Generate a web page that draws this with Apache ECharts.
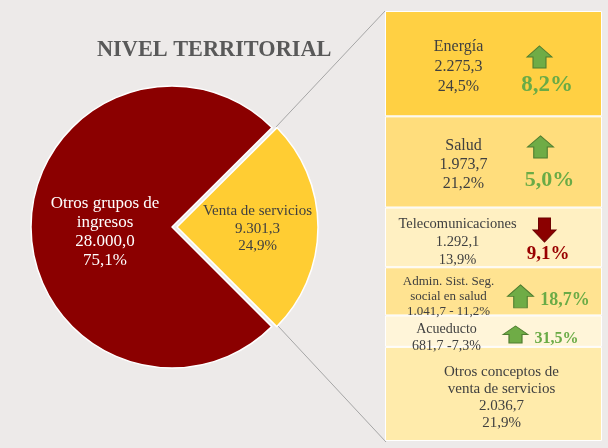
<!DOCTYPE html>
<html>
<head>
<meta charset="utf-8">
<script src="https://cdn.jsdelivr.net/npm/echarts@6/dist/echarts.min.js"></script>
<style>
  html, body { margin: 0; padding: 0; background: #edeae9; }
  #chart { width: 608px; height: 448px; }
</style>
</head>
<body>
<div id="chart"></div>
<script>
// pie: Venta de servicios vs otros grupos
const pieNames = ['Venta de servicios', 'Otros grupos de\ningresos']
const pieValues = [9301.3, 28000.0]
const piePct = [24.9, 75.1]

// desglose de venta de servicios
const itemNames = ['Energía', 'Salud', 'Telecomunicaciones', 'Admin. Sist. Seg.\nsocial en salud', 'Acueducto', 'Otros conceptos de\nventa de servicios']
const itemValues = [2275.3, 1973.7, 1292.1, 1041.7, 681.7, 2036.7]
const itemShare = [24.5, 21.2, 13.9, 11.2, 7.3, 21.9]
const itemGrowth = [8.2, 5.0, -9.1, 18.7, 31.5, null]
const valueSep = ['\n', '\n', '\n', ' - ', ' -', '\n']

const serif = "'Liberation Serif', 'Times New Roman', serif"
const boxColors = ['#ffd043', '#ffdd7c', '#fff0c2', '#ffe391', '#fff5d9', '#ffebab']
const textStyle = [
  { size: 16, lh: 20, off: [-35, 3] },
  { size: 16, lh: 19, off: [-30, 3] },
  { size: 14.5, lh: 18, off: [-36, 5] },
  { size: 13, lh: 15, off: [-45, 5] },
  { size: 14, lh: 17, off: [-47, 6.5] },
  { size: 15, lh: 17, off: [8, 4] },
]
const arrowStyle = [
  { size: [25, 22], off: [46, -6.7] },
  { size: [26, 22], off: [47, -15] },
  { size: [23, 24], off: [51, -7.4] },
  { size: [26, 23], off: [27, 5] },
  { size: [25, 17], off: [22, 3.4] },
]
const pctStyle = [
  { size: 23, off: [53.5, 21] },
  { size: 22, off: [56, 18] },
  { size: 19, off: [54.5, 16.5] },
  { size: 18, off: [71.5, 8.5] },
  { size: 16, off: [63, 8] },
]

const upArrow = 'path://M50,0 L100,50 L76,50 L76,100 L24,100 L24,50 L0,50 Z'
const downArrow = 'path://M24,0 L76,0 L76,50 L100,50 L50,100 L0,50 L24,50 Z'

function fmt(v) {
  const [i, d] = v.toFixed(1).split('.')
  return i.replace(/\B(?=(\d{3})+(?!\d))/g, '.') + ',' + d
}

const mids = []
let acc = 0
itemShare.forEach(s => { mids.push(acc + s / 2); acc += s })

const chart = echarts.init(document.getElementById('chart'))

chart.setOption({
  backgroundColor: '#edeae9',
  animation: false,
  title: {
    text: 'NIVEL TERRITORIAL',
    left: 97,
    top: 39,
    padding: 0,
    textStyle: { fontFamily: serif, fontWeight: 'bold', fontSize: 22.3, color: '#595959' },
  },
  grid: { left: 385, top: 11, width: 217, height: 430 },
  xAxis: { type: 'category', data: ['Venta de servicios'], show: false },
  yAxis: { type: 'value', min: 0, max: 100, inverse: true, show: false },
  graphic: [
    { type: 'line', shape: { x1: 276, y1: 127, x2: 385, y2: 11 }, style: { stroke: '#a6a6a6', lineWidth: 1 }, z: -1 },
    { type: 'line', shape: { x1: 278, y1: 326, x2: 386, y2: 442 }, style: { stroke: '#a6a6a6', lineWidth: 1 }, z: -1 },
  ],
  series: [
    {
      type: 'pie',
      center: [172, 227],
      radius: 141,
      startAngle: 44.8,
      selectedMode: 'single',
      selectedOffset: 5,
      silent: true,
      itemStyle: { borderColor: '#ffffff', borderWidth: 1.5 },
      label: {
        show: true,
        position: 'inside',
        fontFamily: serif,
        formatter: p => '{gap|}\n' + p.name + '\n' + fmt(pieValues[p.dataIndex]) + '\n' + piePct[p.dataIndex].toFixed(1).replace('.', ',') + '%',
      },
      labelLine: { show: false },
      data: pieNames.map((n, i) => ({
        name: n,
        value: pieValues[i],
        selected: i === 0,
        itemStyle: { color: i === 0 ? '#ffcd33' : '#8b0000' },
        label: i === 0
          ? { color: '#404040', fontSize: 15, lineHeight: 17.5, padding: [0, 0, 0, 14], rich: { gap: { lineHeight: 3, fontSize: 1 } } }
          : { color: '#ffffff', fontSize: 17, lineHeight: 19, padding: [0, 0, 0, 13], rich: { gap: { lineHeight: 10, fontSize: 1 } } },
      })),
    },
    ...itemNames.map((n, i) => ({
      type: 'bar',
      stack: 'vs',
      barWidth: 217,
      silent: true,
      itemStyle: { color: boxColors[i], borderColor: '#ffffff', borderWidth: 1 },
      label: {
        show: true,
        position: 'inside',
        offset: textStyle[i].off,
        fontFamily: serif,
        fontSize: textStyle[i].size,
        lineHeight: textStyle[i].lh,
        color: '#404040',
        formatter: () => n + '\n' + fmt(itemValues[i]) + valueSep[i] + itemShare[i].toFixed(1).replace('.', ',') + '%',
      },
      data: [itemShare[i]],
    })),
    {
      type: 'scatter',
      silent: true,
      z: 5,
      data: itemGrowth.map((g, i) => g === null ? null : ({
        value: [0, mids[i]],
        symbol: g >= 0 ? upArrow : downArrow,
        symbolSize: arrowStyle[i].size,
        symbolOffset: arrowStyle[i].off,
        itemStyle: g >= 0
          ? { color: '#6fac46', borderColor: '#4f7d30', borderWidth: 1, opacity: 1 }
          : { color: '#8b0000', borderColor: '#6b0000', borderWidth: 1, opacity: 1 },
      })).filter(d => d),
    },
    {
      type: 'scatter',
      silent: true,
      z: 6,
      symbolSize: 1,
      itemStyle: { color: 'rgba(0,0,0,0)', opacity: 1 },
      data: itemGrowth.map((g, i) => g === null ? null : ({
        value: [0, mids[i]],
        label: {
          show: true,
          position: 'inside',
          offset: pctStyle[i].off,
          fontFamily: serif,
          fontWeight: 'bold',
          fontSize: pctStyle[i].size,
          color: g >= 0 ? '#6aab46' : '#990000',
          formatter: () => Math.abs(g).toFixed(1).replace('.', ',') + '%',
        },
      })).filter(d => d),
    },
  ],
})
</script>
</body>
</html>
